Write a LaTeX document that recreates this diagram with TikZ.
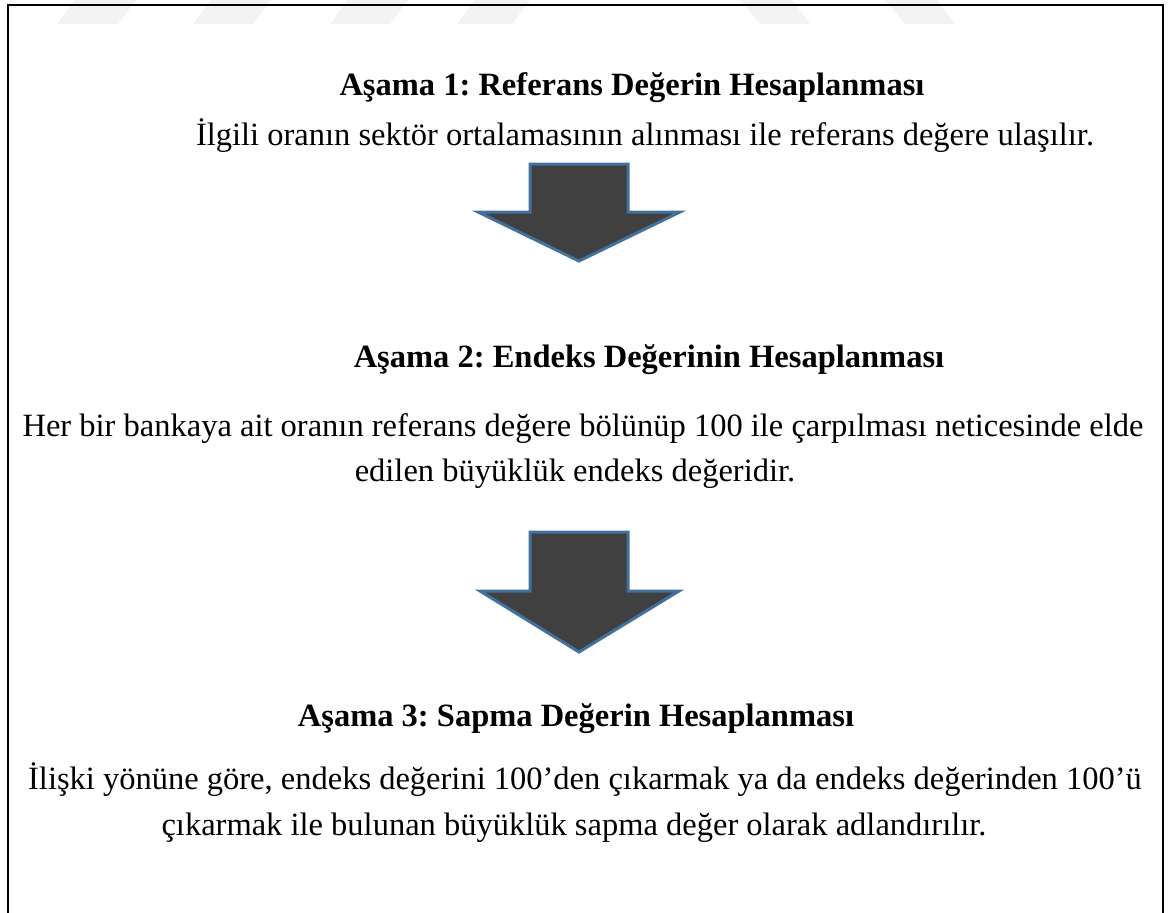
\documentclass[tikz,border=0pt]{standalone}
\usepackage{fontspec}
\setmainfont{Liberation Serif}
\definecolor{arrowfill}{HTML}{404040}
\definecolor{arrowline}{HTML}{41719C}
\definecolor{wm}{HTML}{F3F3F3}
\begin{document}
\frenchspacing
\begin{tikzpicture}[x=0.4pt,y=-0.4pt,
  title/.style={font=\fontsize{13}{15}\selectfont\bfseries,anchor=base,inner sep=0pt},
  body/.style={font=\fontsize{13}{15}\selectfont,anchor=base,inner sep=0pt},
  blockarrow/.style={fill=arrowfill,draw=arrowline,line width=1.2pt,line join=miter},
  frame/.style={draw=black,line width=1pt},
  wmshape/.style={fill=wm,draw=none}]
\useasboundingbox (0,0) rectangle (1168,913);
% watermark
\fill[wmshape] (57,24) -- (118,24) -- (136,0) -- (75,0) -- cycle;
\fill[wmshape] (193,24) -- (253,24) -- (271,0) -- (211,0) -- cycle;
\fill[wmshape] (330,24) -- (390,24) -- (408,0) -- (348,0) -- cycle;
\fill[wmshape] (457,24) -- (512,24) -- (530,0) -- (475,0) -- cycle;
\fill[wmshape] (760,24) -- (810,24) -- (792,0) -- (740,0) -- cycle;
\fill[wmshape] (905,24) -- (955,24) -- (937,0) -- (885,0) -- cycle;
% frame
\draw[frame] (8,913) -- (8,5) -- (1163,5) -- (1163,913);
% stage 1
\node[title] (t1) at (632,96) {Aşama 1: Referans Değerin Hesaplanması};
\node[body] (b1) at (645,145) {İlgili oranın sektör ortalamasının alınması ile referans değere ulaşılır.};
% arrow 1
\draw[blockarrow] (530,164) -- (628,164) -- (628,212) -- (680,212) -- (579,261) -- (478,212) -- (530,212) -- cycle;
% stage 2
\node[title] (t2) at (649,367) {Aşama 2: Endeks Değerinin Hesaplanması};
\node[body] (b2a) at (583,436) {Her bir bankaya ait oranın referans değere bölünüp 100 ile çarpılması neticesinde elde};
\node[body] (b2b) at (575,481) {edilen büyüklük endeks değeridir.};
% arrow 2
\draw[blockarrow] (530,532) -- (628,532) -- (628,591) -- (679,591) -- (579,652) -- (480,591) -- (530,591) -- cycle;
% stage 3
\node[title] (t3) at (576,726) {Aşama 3: Sapma Değerin Hesaplanması};
\node[body] (b3a) at (585,789) {İlişki yönüne göre, endeks değerini 100’den çıkarmak ya da endeks değerinden 100’ü};
\node[body] (b3b) at (574,835) {çıkarmak ile bulunan büyüklük sapma değer olarak adlandırılır.};
\end{tikzpicture}
\end{document}
